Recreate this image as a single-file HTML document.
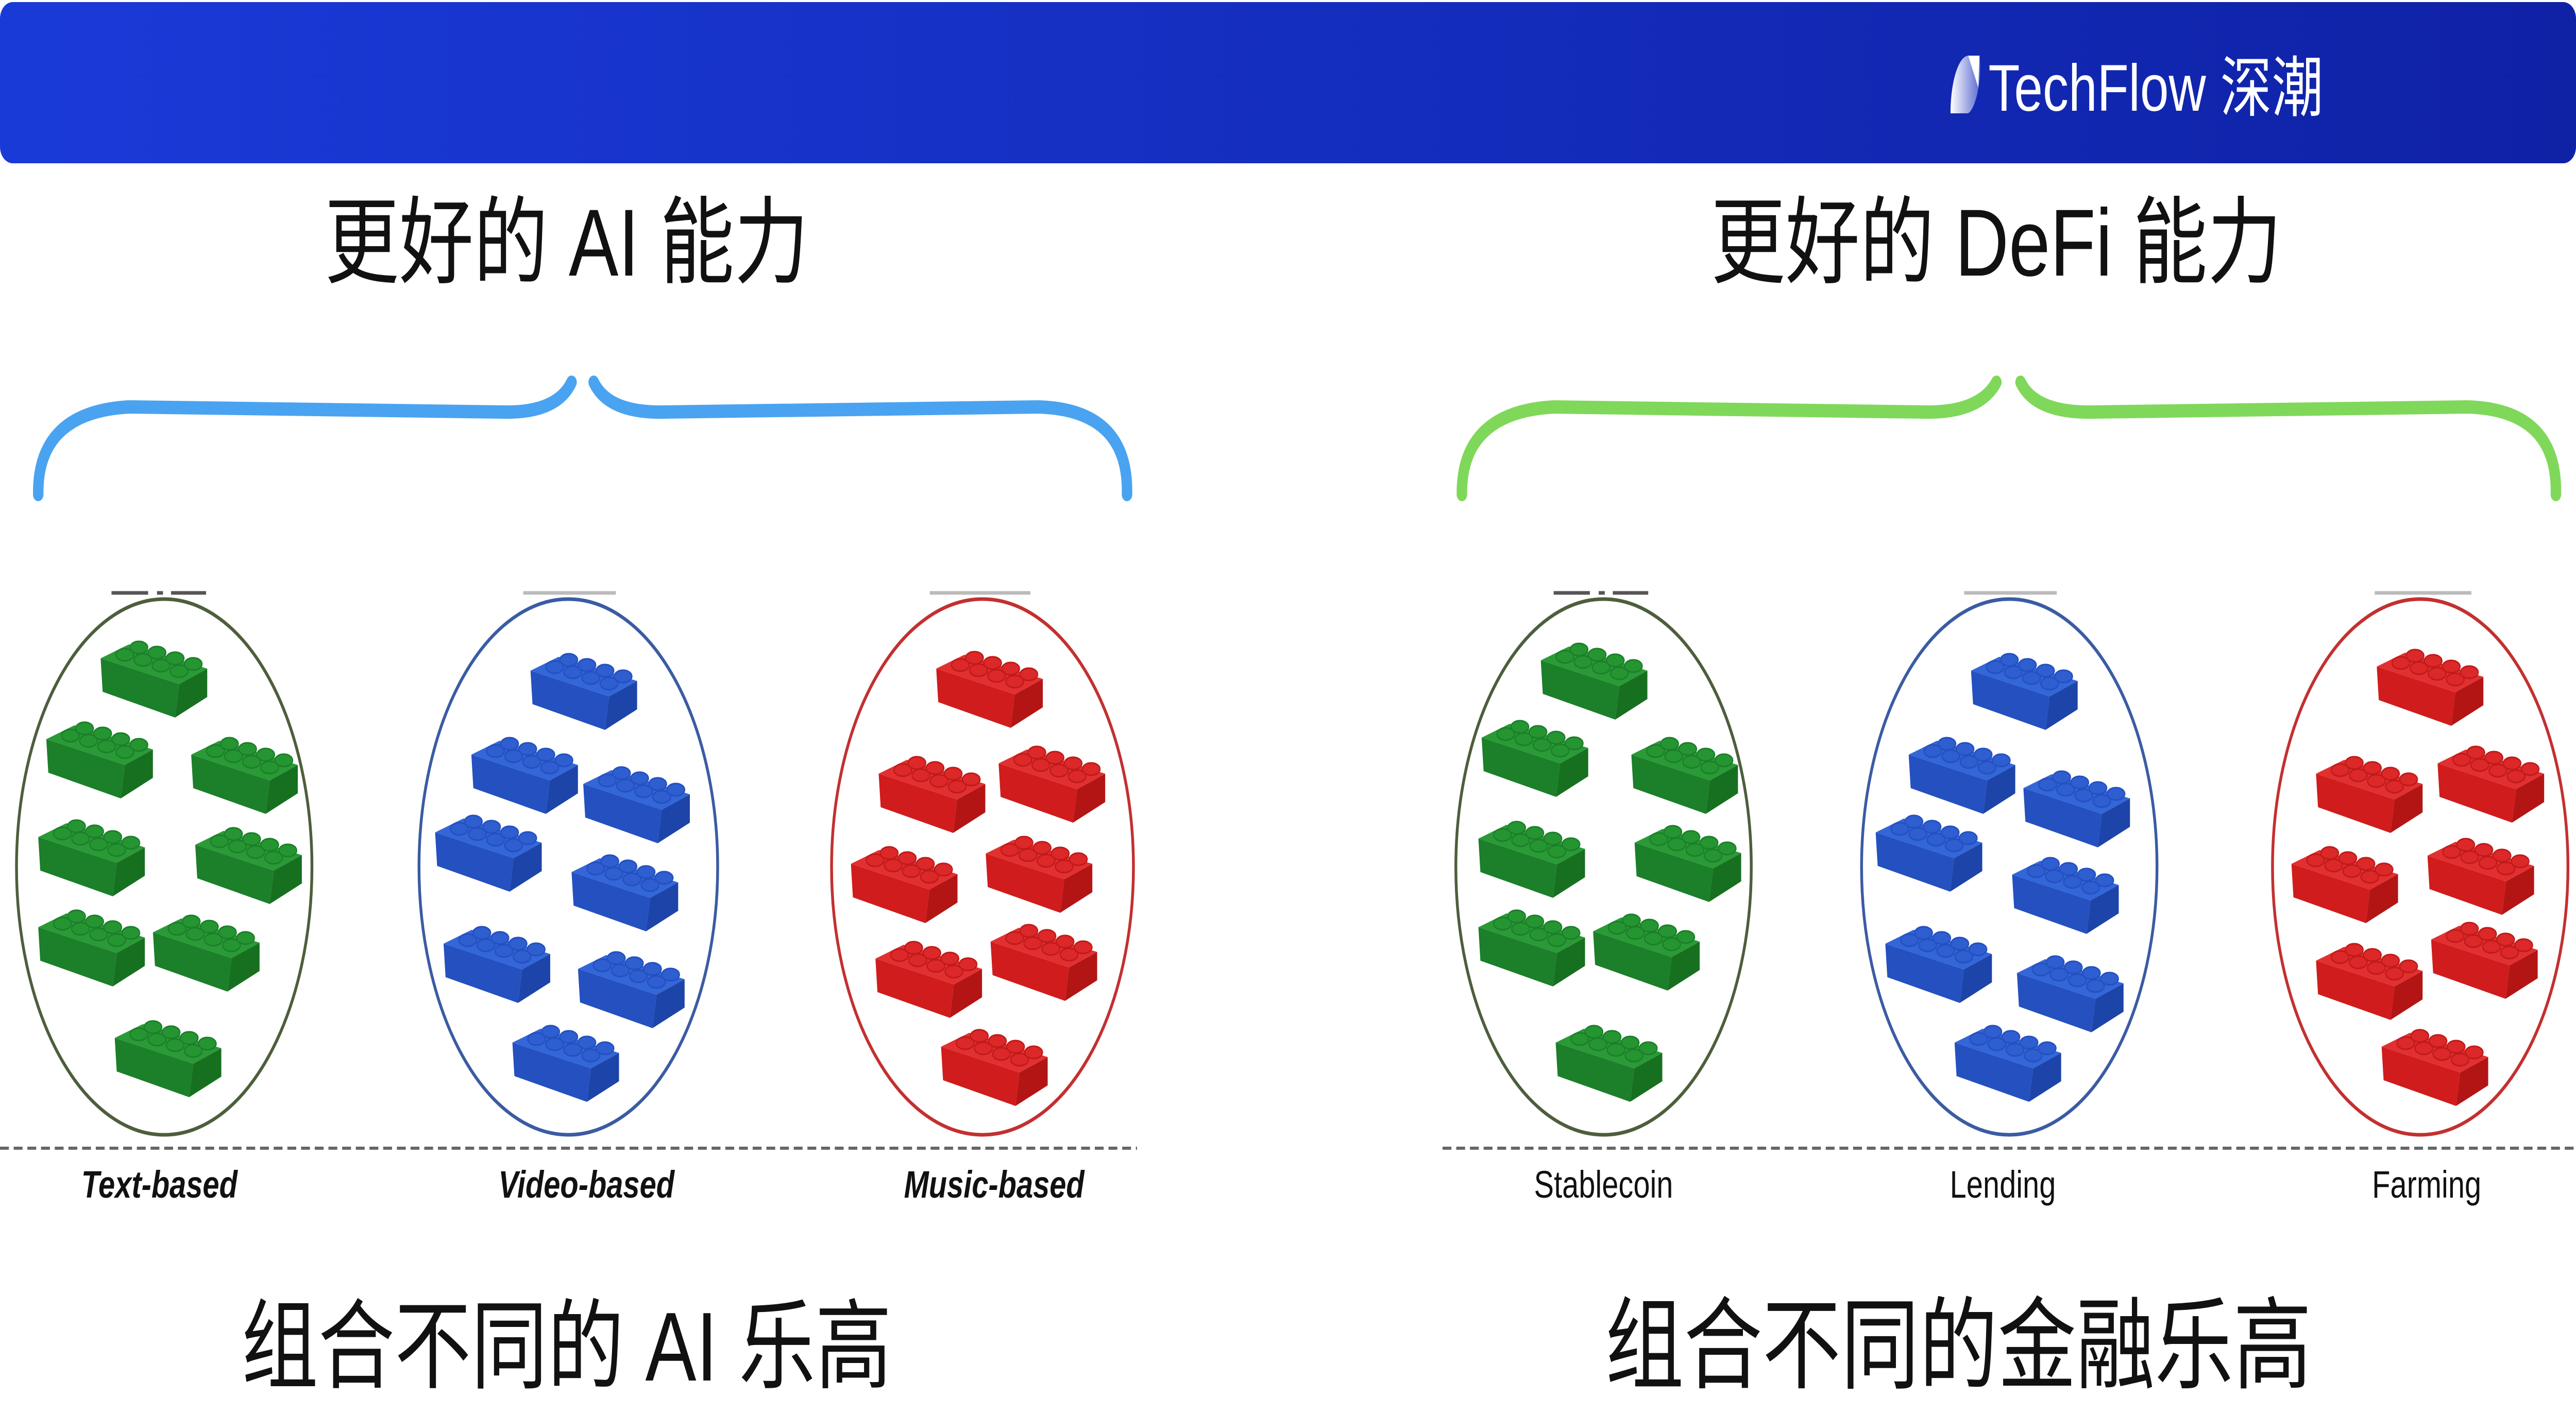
<!DOCTYPE html>
<html><head><meta charset="utf-8"><style>
html,body{margin:0;padding:0;background:#fff;overflow:hidden;width:100%;height:100%}
svg{display:block;width:100vw;height:100vh}
</style></head><body>
<svg viewBox="0 0 6400 2745" preserveAspectRatio="none" xmlns="http://www.w3.org/2000/svg">
<defs>
<linearGradient id="hdr" x1="0" x2="1" y1="0" y2="0"><stop offset="0" stop-color="#1a3ad8"/><stop offset="1" stop-color="#0f22a6"/></linearGradient>
<linearGradient id="logo" x1="0" x2="1"><stop offset="0" stop-color="#ffffff"/><stop offset="1" stop-color="#5a6ad0"/></linearGradient>
<symbol id="bg" viewBox="0 0 265 160" width="265" height="160">
<polygon points="0,45 195,95 185,160 5,110" fill="#1c7f2a"/>
<polygon points="195,95 265,65 265,120 185,160" fill="#17701f"/>
<polygon points="0,45 70,18 265,65 195,95" fill="#2a9a36"/>
<g fill="#259531" stroke="#1c7f2a" stroke-width="3">
<ellipse cx="60" cy="38" rx="22" ry="12"/><ellipse cx="105" cy="48" rx="22" ry="12"/><ellipse cx="150" cy="59" rx="22" ry="12"/><ellipse cx="195" cy="70" rx="22" ry="12"/>
<ellipse cx="95" cy="24" rx="22" ry="12"/><ellipse cx="140" cy="34" rx="22" ry="12"/><ellipse cx="185" cy="45" rx="22" ry="12"/><ellipse cx="230" cy="56" rx="22" ry="12"/>
</g></symbol>
<symbol id="bb" viewBox="0 0 265 160" width="265" height="160">
<polygon points="0,45 195,95 185,160 5,110" fill="#2450c0"/>
<polygon points="195,95 265,65 265,120 185,160" fill="#1d44a8"/>
<polygon points="0,45 70,18 265,65 195,95" fill="#3366d8"/>
<g fill="#2e5ed0" stroke="#2450c0" stroke-width="3">
<ellipse cx="60" cy="38" rx="22" ry="12"/><ellipse cx="105" cy="48" rx="22" ry="12"/><ellipse cx="150" cy="59" rx="22" ry="12"/><ellipse cx="195" cy="70" rx="22" ry="12"/>
<ellipse cx="95" cy="24" rx="22" ry="12"/><ellipse cx="140" cy="34" rx="22" ry="12"/><ellipse cx="185" cy="45" rx="22" ry="12"/><ellipse cx="230" cy="56" rx="22" ry="12"/>
</g></symbol>
<symbol id="br" viewBox="0 0 265 160" width="265" height="160">
<polygon points="0,45 195,95 185,160 5,110" fill="#d01c1c"/>
<polygon points="195,95 265,65 265,120 185,160" fill="#b31515"/>
<polygon points="0,45 70,18 265,65 195,95" fill="#e23030"/>
<g fill="#dc2828" stroke="#c01a1a" stroke-width="3">
<ellipse cx="60" cy="38" rx="22" ry="12"/><ellipse cx="105" cy="48" rx="22" ry="12"/><ellipse cx="150" cy="59" rx="22" ry="12"/><ellipse cx="195" cy="70" rx="22" ry="12"/>
<ellipse cx="95" cy="24" rx="22" ry="12"/><ellipse cx="140" cy="34" rx="22" ry="12"/><ellipse cx="185" cy="45" rx="22" ry="12"/><ellipse cx="230" cy="56" rx="22" ry="12"/>
</g></symbol>
</defs>

<rect x="0" y="4" width="6400" height="313" rx="32" fill="url(#hdr)"/>
<path d="M4846 220 C4846 160 4865 110 4890 108 L4918 108 C4925 150 4910 210 4890 220 Z" fill="url(#logo)"/>
<polygon points="4890,108 4918,108 4915,170" fill="#fff"/>
<text x="4940" y="215" font-family="Liberation Sans, Noto Sans CJK SC, sans-serif" font-size="128" fill="#fff">TechFlow 深潮</text>

<g font-family="Liberation Sans, Noto Sans CJK SC, sans-serif" fill="#111" text-anchor="middle">
<text x="1408" y="535" font-size="185">更好的 AI 能力</text>
<text x="4960" y="535" font-size="185">更好的 DeFi 能力</text>
<text x="1408" y="2680" font-size="190">组合不同的 AI 乐高</text>
<text x="4866" y="2680" font-size="195">组合不同的金融乐高</text>
</g>

<g fill="none" stroke-linecap="round" stroke-width="26">
<path d="M95 960 Q92 800 320 790 L1260 800 Q1385 800 1420 742" stroke="#4aa3f0"/>
<path d="M1475 742 Q1510 800 1640 800 L2580 790 Q2805 795 2800 960" stroke="#4aa3f0"/>
<path d="M3632 960 Q3630 800 3860 790 L4790 800 Q4920 800 4960 742" stroke="#7fd85a"/>
<path d="M5020 742 Q5055 800 5190 800 L6130 790 Q6355 795 6350 960" stroke="#7fd85a"/>
</g>

<g stroke-width="7" fill="none">
<ellipse cx="408" cy="1683" rx="367" ry="520" stroke="#4d5e3c"/>
<ellipse cx="1412" cy="1683" rx="371" ry="520" stroke="#3b5ba3"/>
<ellipse cx="2441" cy="1683" rx="375" ry="520" stroke="#c33030"/>
<ellipse cx="3984" cy="1683" rx="367" ry="520" stroke="#4d5e3c"/>
<ellipse cx="4992" cy="1683" rx="367" ry="520" stroke="#3b5ba3"/>
<ellipse cx="6013" cy="1683" rx="367" ry="520" stroke="#c33030"/>
</g>
<g stroke-width="7">
<path d="M277 1151 H368 M390 1151 H405 M425 1151 H512" stroke="#555"/>
<path d="M1300 1151 H1530" stroke="#bbb"/>
<path d="M2310 1151 H2560" stroke="#bbb"/>
<path d="M3860 1151 H3950 M3972 1151 H3987 M4007 1151 H4095" stroke="#555"/>
<path d="M4880 1151 H5110" stroke="#bbb"/>
<path d="M5900 1151 H6140" stroke="#bbb"/>
</g>

<use href="#bg" x="250" y="1233"/><use href="#bg" x="115" y="1390"/><use href="#bg" x="475" y="1420"/><use href="#bg" x="95" y="1580"/>
<use href="#bg" x="485" y="1595"/><use href="#bg" x="95" y="1755"/><use href="#bg" x="380" y="1765"/><use href="#bg" x="285" y="1970"/>

<use href="#bb" x="1318" y="1257"/><use href="#bb" x="1171" y="1420"/><use href="#bb" x="1449" y="1477"/><use href="#bb" x="1081" y="1571"/>
<use href="#bb" x="1420" y="1648"/><use href="#bb" x="1102" y="1787"/><use href="#bb" x="1436" y="1836"/><use href="#bb" x="1273" y="1979"/>

<use href="#br" x="2326" y="1253"/><use href="#br" x="2183" y="1457"/><use href="#br" x="2481" y="1437"/><use href="#br" x="2114" y="1632"/>
<use href="#br" x="2449" y="1612"/><use href="#br" x="2175" y="1816"/><use href="#br" x="2461" y="1783"/><use href="#br" x="2338" y="1987"/>

<use href="#bg" x="3828" y="1237"/><use href="#bg" x="3681" y="1387"/><use href="#bg" x="4053" y="1420"/><use href="#bg" x="3673" y="1583"/>
<use href="#bg" x="4061" y="1591"/><use href="#bg" x="3673" y="1755"/><use href="#bg" x="3958" y="1763"/><use href="#bg" x="3865" y="1979"/>

<use href="#bb" x="4897" y="1257"/><use href="#bb" x="4742" y="1420"/><use href="#bb" x="5027" y="1485"/><use href="#bb" x="4660" y="1571"/>
<use href="#bb" x="4999" y="1653"/><use href="#bb" x="4684" y="1787"/><use href="#bb" x="5011" y="1844"/><use href="#bb" x="4856" y="1979"/>

<use href="#br" x="5905" y="1249"/><use href="#br" x="5754" y="1457"/><use href="#br" x="6056" y="1437"/><use href="#br" x="5693" y="1632"/>
<use href="#br" x="6031" y="1616"/><use href="#br" x="5754" y="1820"/><use href="#br" x="6040" y="1779"/><use href="#br" x="5917" y="1987"/>

<g stroke="#666" stroke-width="6" stroke-dasharray="22 12">
<path d="M0 2229 H2825"/>
<path d="M3584 2229 H6400"/>
</g>

<g font-family="Liberation Sans, sans-serif" font-size="74" fill="#111" text-anchor="middle">
<text x="396" y="2325" font-style="italic" font-weight="bold">Text-based</text>
<text x="1457" y="2325" font-style="italic" font-weight="bold">Video-based</text>
<text x="2470" y="2325" font-style="italic" font-weight="bold">Music-based</text>
<text x="3984" y="2325">Stablecoin</text>
<text x="4976" y="2325">Lending</text>
<text x="6029" y="2325">Farming</text>
</g>
</svg>
</body></html>
